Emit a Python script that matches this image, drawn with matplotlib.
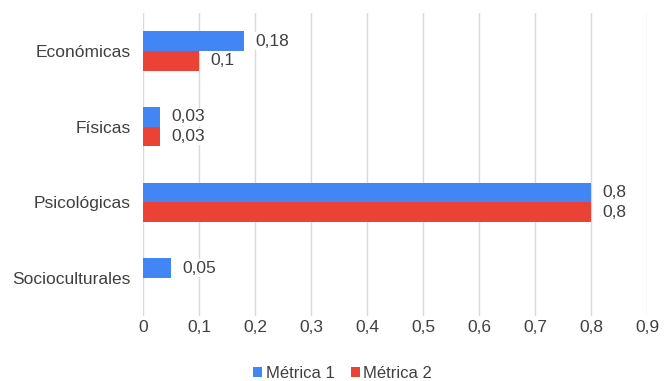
import matplotlib.pyplot as plt
import numpy as np

plt.rcParams['font.family'] = ['Liberation Sans', 'DejaVu Sans']

categories = ['Económicas', 'Físicas', 'Psicológicas', 'Socioculturales']
metrica1 = [0.18, 0.03, 0.8, 0.05]
metrica2 = [0.1, 0.03, 0.8, np.nan]
series_names = ['Métrica 1', 'Métrica 2']
x_ticks = [0, 0.1, 0.2, 0.3, 0.4, 0.5, 0.6, 0.7, 0.8, 0.9]

blue = '#4285f4'
red = '#ea4335'
text_color = '#404040'
fs = 12.5

fig = plt.figure(figsize=(6.72, 3.81), dpi=100)
ax = fig.add_axes([0.2128, 0.1706, 0.75, 0.7953])

y = np.arange(len(categories))
h = 0.26

bars1 = ax.barh(y - h / 2, metrica1, height=h, color=blue, label=series_names[0], zorder=2)
m2 = [0 if np.isnan(v) else v for v in metrica2]
bars2 = ax.barh(y + h / 2, m2, height=h, color=red, label=series_names[1], zorder=2)

def fmt(v):
    return ('%g' % v).replace('.', ',')

for vals, bars in ((metrica1, bars1), (metrica2, bars2)):
    for v, b in zip(vals, bars):
        if np.isnan(v):
            continue
        ax.text(v + 0.02, b.get_y() + b.get_height() / 2, fmt(v), va='center', ha='left',
                fontsize=fs, color=text_color, zorder=3,
                bbox=dict(facecolor='white', edgecolor='none', pad=1))

ax.set_ylim(len(categories) - 0.5, -0.5)
ax.set_xlim(0, 0.9)
ax.set_yticks(y)
ax.set_yticklabels(categories, fontsize=fs, color=text_color)
ax.set_xticks(x_ticks)
ax.set_xticklabels([fmt(t) for t in x_ticks], fontsize=fs, color=text_color)
ax.tick_params(axis='x', length=0, pad=3)
ax.tick_params(axis='y', length=0, pad=9)
ax.grid(axis='x', color='#d9d9d9', linewidth=1, zorder=0)
for s in ax.spines.values():
    s.set_visible(False)

fig.legend(loc='lower center', ncol=2, frameon=False, fontsize=12,
           handlelength=0.55, handleheight=0.55, handletextpad=0.2, columnspacing=1.0,
           labelcolor=text_color, bbox_to_anchor=(0.51, -0.04))

fig.savefig('out.png', dpi=100)
